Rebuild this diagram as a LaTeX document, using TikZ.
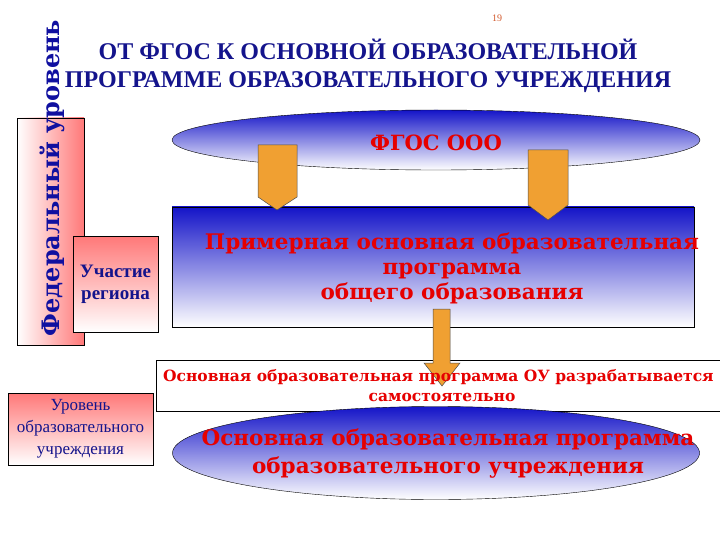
\documentclass[tikz,border=0pt]{standalone}
\usepackage{fontspec}
\setmainfont{Liberation Serif}
\newfontfamily\wide{DejaVu Serif}
\usetikzlibrary{shapes.geometric}
\definecolor{navy}{RGB}{20,20,140}
\definecolor{rtxt}{RGB}{230,0,0}
\definecolor{pinkc}{RGB}{255,120,120}
\definecolor{bluec}{RGB}{20,20,200}
\definecolor{orng}{RGB}{240,160,50}
\tikzset{
  pinkbox/.style={draw=black,top color=pinkc,bottom color=white},
  bluebox/.style={draw=black,top color=bluec,bottom color=white},
  orarrow/.style={draw=gray!60!black,fill=orng,line width=0.5pt},
  redtxt/.style={text=rtxt,font=\wide\bfseries,align=center}
}
\begin{document}
\begin{tikzpicture}[x=1pt,y=-1pt]
\useasboundingbox (0,0) rectangle (720,540);
\node[text=brown!70!red,font=\fontsize{10}{10}\selectfont] (pg) at (497,18) {19};
\node[text=navy,font=\bfseries\fontsize{24}{28}\selectfont,align=center] (title) at (368,66) {ОТ ФГОС К ОСНОВНОЙ ОБРАЗОВАТЕЛЬНОЙ\\ПРОГРАММЕ ОБРАЗОВАТЕЛЬНОГО УЧРЕЖДЕНИЯ};
% federal
\fill[left color=white,right color=pinkc] (17,118) rectangle (84,345);
\draw (17,118) rectangle (84,345);
\node[rotate=90,text=bluec!80!black,font=\wide\bfseries\fontsize{24}{24}\selectfont] (fed) at (52,178) {Федеральный уровень};
\node[pinkbox,minimum width=85,minimum height=96,text=navy,font=\bfseries\fontsize{19}{22}\selectfont,align=center,inner sep=0] (reg) at (115.5,284) {Участие\\региона};
% top ellipse
\node[ellipse,bluebox,minimum width=528,minimum height=60] (fgos) at (436,140) {};
\node[redtxt,font=\wide\bfseries\fontsize{21}{22}\selectfont] at (436,143) {ФГОС ООО};
% rect
\node[bluebox,minimum width=522,minimum height=120,inner sep=0] (prim) at (433,267) {};
\node[redtxt,font=\wide\bfseries\fontsize{21.5}{25}\selectfont] at (452,268) {Примерная основная образовательная\\программа\\общего образования};
% arrows
\draw[orarrow] (258,145) -- (297,145) -- (297,197) -- (277,210) -- (258,197) -- cycle;
\draw[orarrow] (528,150) -- (568,150) -- (568,205) -- (548,220) -- (528,205) -- cycle;
% text box
\begin{scope}
\clip (0,0) rectangle (720,540);
\node[draw=black,fill=white,minimum width=580,minimum height=51,anchor=north west,inner sep=0] (ou) at (156,360) {};
\end{scope}
\draw[orarrow] (433,309) -- (450,309) -- (450,363) -- (460,363) -- (442,386) -- (424,363) -- (433,363) -- cycle;
\begin{scope}
\clip (156,355) rectangle (720,415);
\node[redtxt,font=\wide\bfseries\fontsize{15.5}{19}\selectfont,anchor=west,inner sep=0] (out) at (163,377) {Основная образовательная программа ОУ разрабатывается};
\node[redtxt,font=\wide\bfseries\fontsize{15.5}{19}\selectfont] (out2) at (442,397) {самостоятельно};
\end{scope}
% bottom ellipse
\node[ellipse,bluebox,minimum width=527,minimum height=93] (oop) at (436,453) {};
\node[redtxt,font=\wide\bfseries\fontsize{21.5}{28}\selectfont] at (448,454) {Основная образовательная программа\\образовательного учреждения};
\node[pinkbox,minimum width=145,minimum height=72,text=navy,font=\fontsize{17}{22}\selectfont,align=center,inner sep=0] (lvl) at (80.5,429) {Уровень\\образовательного\\учреждения};
\end{tikzpicture}
\end{document}
